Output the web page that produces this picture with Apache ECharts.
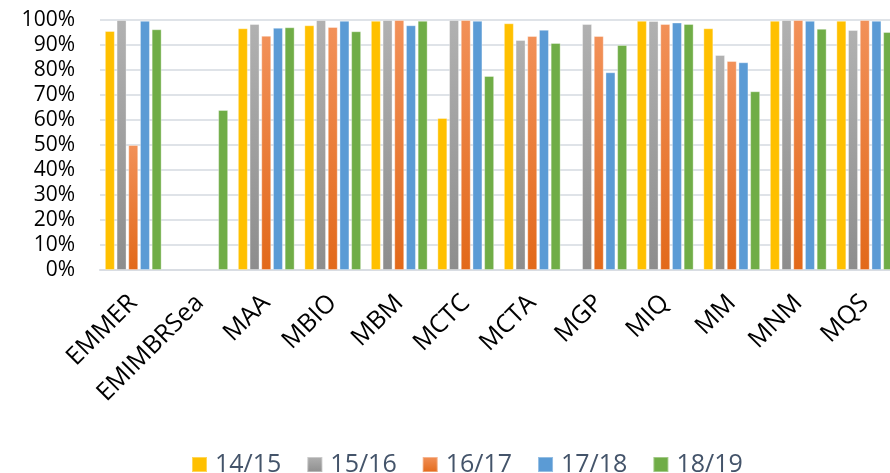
<!DOCTYPE html>
<html>
<head>
<meta charset="utf-8">
<script src="https://cdn.jsdelivr.net/npm/echarts@6/dist/echarts.min.js"></script>
<style>
  html, body { margin: 0; padding: 0; background: #fff; overflow: hidden; }
  /* plot runs a few px past the right edge, as in the original */
  #chart { width: 898px; height: 473px; }
</style>
</head>
<body>
<div id="chart"></div>
<script>
const categories = ["EMMER", "EMIMBRSea", "MAA", "MBIO", "MBM", "MCTC", "MCTA", "MGP", "MIQ", "MM", "MNM", "MQS"];
const yearNames = ["14/15", "15/16", "16/17", "17/18", "18/19"];

const y1415 = [95.6, null, 96.7, 97.9, 99.7, 60.8, 98.7, null, 99.7, 96.7, 99.7, 99.7];
const y1516 = [100, null, 98.4, 100, 100, 100, 92, 98.4, 99.6, 86, 100, 96];
const y1617 = [50, null, 93.7, 97.2, 100, 100, 93.6, 93.6, 98.4, 83.6, 100, 100];
const y1718 = [99.7, null, 96.9, 99.7, 97.9, 99.7, 96.1, 79.1, 99, 83.1, 99.7, 99.7];
const y1819 = [96.3, 64, 97.1, 95.5, 99.7, 77.6, 90.8, 90, 98.4, 71.5, 96.5, 95.2];

const yTicks = [0, 10, 20, 30, 40, 50, 60, 70, 80, 90, 100];

const fontFamily = "Open Sans, sans-serif";

const vGrad = (top, bottom) =>
  new echarts.graphic.LinearGradient(0, 0, 0, 1, [
    { offset: 0, color: top },
    { offset: 1, color: bottom },
  ]);

const colors = [
  "#FFC000",
  vGrad("#b1b1b1", "#8d8d8d"),
  vGrad("#f29159", "#e2691a"),
  "#5B9BD5",
  "#70AD47",
];

const seriesData = [y1415, y1516, y1617, y1718, y1819];

const chart = echarts.init(document.getElementById("chart"));

const option = {
  animation: false,
  textStyle: { fontFamily: fontFamily },
  grid: {
    left: 100,
    top: 20,
    right: 0,
    bottom: 203,
  },
  legend: {
    top: 447,
    left: 186,
    itemWidth: 15,
    itemHeight: 15,
    itemGap: 25,
    icon: "rect",
    data: yearNames,
    textStyle: {
      color: "#44546A",
      fontSize: 25,
      fontFamily: fontFamily,
      padding: [0, 0, 0, 3],
    },
  },
  xAxis: {
    type: "category",
    data: categories,
    axisTick: { show: false },
    axisLine: { lineStyle: { color: "#d9dde3", width: 2 } },
    axisLabel: {
      interval: 0,
      rotate: 45,
      margin: 29,
      color: "#000",
      fontSize: 25,
      fontFamily: fontFamily,
    },
  },
  yAxis: {
    type: "value",
    min: yTicks[0],
    max: yTicks[yTicks.length - 1],
    interval: 10,
    axisLine: { show: false },
    axisTick: { show: false },
    splitLine: { lineStyle: { color: "#dfe3e8", width: 2 } },
    axisLabel: {
      margin: 25,
      color: "#000",
      fontSize: 21,
      fontFamily: fontFamily,
      formatter: "{value}%",
    },
  },
  series: yearNames.map((name, i) => ({
    name: name,
    type: "bar",
    data: seriesData[i],
    barWidth: 10,
    barGap: "17%",
    itemStyle: {
      color: colors[i],
      borderColor: "rgba(255,255,255,0.35)",
      borderWidth: 1,
    },
  })),
};

chart.setOption(option);
</script>
</body>
</html>
